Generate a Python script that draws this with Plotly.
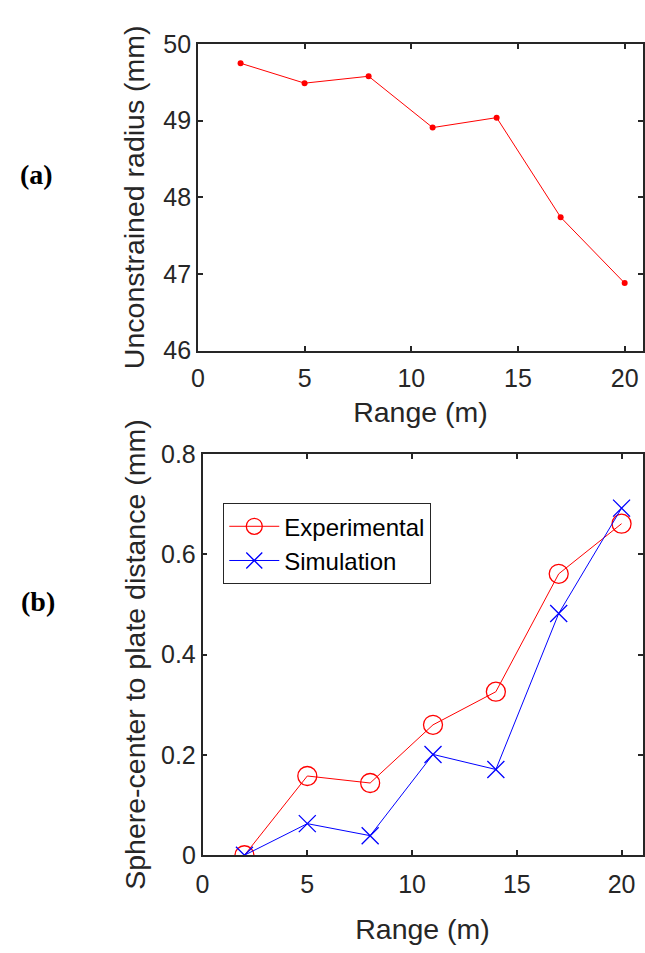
import plotly.graph_objects as go

# Data
range_m = [2, 5, 8, 11, 14, 17, 20]
radius_mm = [49.75, 49.49, 49.58, 48.91, 49.04, 47.74, 46.88]
exp_dist = [0.0, 0.158, 0.144, 0.260, 0.326, 0.561, 0.661]
sim_dist = [0.0, 0.063, 0.039, 0.201, 0.171, 0.482, 0.692]

W, H = 645, 953
FONT = "Liberation Sans, Arial, sans-serif"
AX = "#262626"

def px_x(a, b):
    return [a / W, b / W]

def px_y(top, bottom):
    return [(H - bottom) / H, (H - top) / H]

fig = go.Figure()

fig.add_trace(go.Scatter(
    x=range_m, y=radius_mm, mode="lines+markers",
    line=dict(color="#FF0000", width=1),
    marker=dict(color="#FF0000", size=6, symbol="circle"),
    showlegend=False, xaxis="x", yaxis="y"))

fig.add_trace(go.Scatter(
    x=range_m, y=exp_dist, mode="lines+markers", name="Experimental",
    line=dict(color="#FF0000", width=1),
    marker=dict(color="#FF0000", size=19, symbol="circle-open",
                line=dict(color="#FF0000", width=1.3)),
    xaxis="x2", yaxis="y2"))

fig.add_trace(go.Scatter(
    x=range_m, y=sim_dist, mode="lines+markers", name="Simulation",
    line=dict(color="#0000FF", width=1),
    marker=dict(color="#0000FF", size=17, symbol="x-thin-open",
                line=dict(color="#0000FF", width=1.3)),
    xaxis="x2", yaxis="y2"))

axis_common = dict(
    showline=True, linecolor=AX, linewidth=1.5, mirror="ticks",
    ticks="inside", ticklen=5, tickwidth=1.5, tickcolor=AX,
    showgrid=False, zeroline=False,
    tickfont=dict(family=FONT, size=25, color=AX),
)

TITLE_FONT = dict(family=FONT, size=28.5, color=AX)

fig.update_layout(
    width=W, height=H,
    margin=dict(l=0, r=0, t=0, b=0),
    paper_bgcolor="white", plot_bgcolor="white",
    font=dict(family=FONT, color=AX),
    xaxis=dict(domain=px_x(193.3, 644), range=[0, 20.86], anchor="y",
               tickvals=[0, 5, 10, 15, 20], ticklabelstandoff=5,
               title=dict(text="Range (m)", font=TITLE_FONT, standoff=11),
               **axis_common),
    yaxis=dict(domain=px_y(31, 346.7), range=[46, 50], anchor="x",
               tickvals=[46, 47, 48, 49, 50],
               title=dict(text="Unconstrained radius (mm)", font=TITLE_FONT, standoff=10),
               **axis_common),
    xaxis2=dict(domain=px_x(198, 643.5), range=[0, 21], anchor="y2",
                tickvals=[0, 5, 10, 15, 20], ticklabelstandoff=6,
                title=dict(text="Range (m)", font=TITLE_FONT, standoff=22),
                **axis_common),
    yaxis2=dict(domain=px_y(453.3, 866.7), range=[0, 0.8], anchor="x2",
                tickvals=[0, 0.2, 0.4, 0.6, 0.8], ticktext=["0", "0.2", "0.4", "0.6", "0.8"],
                title=dict(text="Sphere-center to plate distance (mm)", font=TITLE_FONT, standoff=7),
                **axis_common),
    legend=dict(x=219 / W, y=(H - 504) / H, xanchor="left", yanchor="top",
                bgcolor="white", bordercolor=AX, borderwidth=1,
                font=dict(family=FONT, size=24, color="#000000"),
                itemwidth=50, tracegroupgap=0),
    annotations=[
        dict(text="<b>(a)</b>", x=29.5 / W, y=(H - 165) / H, xref="paper", yref="paper",
             showarrow=False, xanchor="center", yanchor="middle",
             font=dict(family="Liberation Serif, Times New Roman, serif", size=28, color="#000000")),
        dict(text="<b>(b)</b>", x=31 / W, y=(H - 605) / H, xref="paper", yref="paper",
             showarrow=False, xanchor="center", yanchor="middle",
             font=dict(family="Liberation Serif, Times New Roman, serif", size=28, color="#000000")),
    ],
)

fig.write_html("out.html")
